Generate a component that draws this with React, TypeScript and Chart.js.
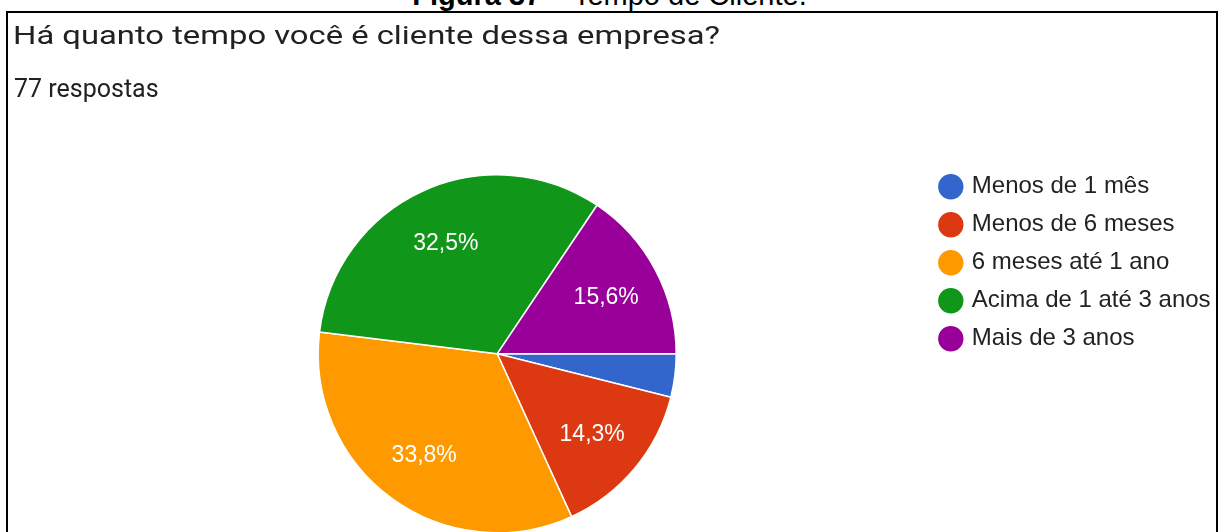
import React, { useEffect, useLayoutEffect, useRef } from "react";
import { Chart, registerables } from "chart.js";

Chart.register(...registerables);

const captionBold = "Figura 37";
const captionRest = " – Tempo de Cliente.";
const questionTitle = "Há quanto tempo você é cliente dessa empresa?";
const responseCount = "77 respostas";

const categories = [
  "Menos de 1 mês",
  "Menos de 6 meses",
  "6 meses até 1 ano",
  "Acima de 1 até 3 anos",
  "Mais de 3 anos",
];
const responses = [3, 11, 26, 25, 12];
const sliceColors = ["#3366CC", "#DC3912", "#FF9900", "#109618", "#990099"];
const minLabelPercent = 5;

const LEGEND_FONT = '"Liberation Sans", Arial, sans-serif';
const LEGEND_SIZE = 24;
const LEGEND_BOX_W = 18;
const LEGEND_PAD = 14;
const CANVAS_W = 1260;
const CANVAS_H = 560;
const LEGEND_LEFT = 927.8;

const sliceLabelPlugin = {
  id: "sliceLabels",
  afterDatasetsDraw(chart: any) {
    const ctx = chart.ctx;
    const meta = chart.getDatasetMeta(0);
    const values: number[] = chart.data.datasets[0].data;
    const total = values.reduce((a, b) => a + b, 0);
    ctx.save();
    ctx.fillStyle = "#ffffff";
    ctx.font = '23px "Liberation Sans", Arial, sans-serif';
    ctx.textAlign = "center";
    ctx.textBaseline = "middle";
    meta.data.forEach((arc: any, i: number) => {
      const pct = (values[i] / total) * 100;
      if (pct < minLabelPercent) return;
      const p = arc.getProps(["x", "y", "startAngle", "endAngle", "outerRadius"], true);
      const mid = (p.startAngle + p.endAngle) / 2;
      const r = p.outerRadius * 0.69;
      const text = pct.toFixed(1).replace(".", ",") + "%";
      ctx.fillText(text, p.x + Math.cos(mid) * r, p.y + Math.sin(mid) * r + 2);
    });
    ctx.restore();
  },
};

export default function App() {
  const canvasRef = useRef<HTMLCanvasElement | null>(null);
  const titleRef = useRef<HTMLSpanElement | null>(null);

  useLayoutEffect(() => {
    const el = titleRef.current;
    if (!el) return;
    el.style.transform = "none";
    const w = el.getBoundingClientRect().width;
    if (w > 0) el.style.transform = `scaleX(${707 / w})`;
  }, []);

  useEffect(() => {
    if (!canvasRef.current) return;
    const mctx = document.createElement("canvas").getContext("2d")!;
    mctx.font = `${LEGEND_SIZE}px ${LEGEND_FONT}`;
    const maxText = Math.max(...categories.map((c) => mctx.measureText(c).width));
    const legendWidth = LEGEND_PAD + LEGEND_BOX_W + LEGEND_SIZE / 2 + maxText + 10;
    const padRight = CANVAS_W - LEGEND_LEFT - legendWidth;

    const chart = new Chart(canvasRef.current, {
      type: "pie",
      data: {
        labels: categories,
        datasets: [
          {
            data: responses,
            backgroundColor: sliceColors,
            borderColor: "#ffffff",
            borderWidth: 1.5,
            radius: 179,
          },
        ],
      },
      options: {
        responsive: false,
        animation: false,
        rotation: 90,
        layout: { padding: { left: 66.6, right: padRight, top: 160.7, bottom: 13.1 } },
        plugins: {
          tooltip: { enabled: false },
          legend: {
            position: "right",
            align: "start",
            labels: {
              usePointStyle: true,
              pointStyle: "circle",
              boxWidth: LEGEND_BOX_W,
              boxHeight: 19,
              padding: LEGEND_PAD,
              color: "#222222",
              font: { family: LEGEND_FONT, size: LEGEND_SIZE },
            },
          },
        },
      } as any,
      plugins: [sliceLabelPlugin],
    });
    return () => chart.destroy();
  }, []);

  return (
    <div
      style={{
        position: "fixed",
        left: 0,
        top: 0,
        width: 1219,
        height: 532,
        overflow: "hidden",
        background: "#ffffff",
      }}
    >
      <div
        style={{
          position: "absolute",
          left: 0,
          top: -19.5,
          width: 1219,
          textAlign: "center",
          fontFamily: '"Liberation Sans", Arial, sans-serif',
          fontSize: 29,
          lineHeight: "29px",
          color: "#000",
          whiteSpace: "nowrap",
        }}
      >
        <b>{captionBold}</b>
        {captionRest}
      </div>
      <canvas
        ref={canvasRef}
        width={CANVAS_W}
        height={CANVAS_H}
        style={{ position: "absolute", left: 0, top: 0, display: "block" }}
      />
      <div
        style={{
          position: "absolute",
          left: 6,
          top: 11,
          width: 1212,
          height: 600,
          border: "2px solid #000",
          boxSizing: "border-box",
          pointerEvents: "none",
        }}
      />
      <div
        style={{
          position: "absolute",
          left: 13,
          top: 21.7,
          fontFamily: "Roboto, sans-serif",
          fontSize: 26.5,
          lineHeight: "26.5px",
          color: "#202124",
          whiteSpace: "nowrap",
        }}
      >
        <span ref={titleRef} style={{ display: "inline-block", transformOrigin: "0 0" }}>
          {questionTitle}
        </span>
      </div>
      <div
        style={{
          position: "absolute",
          left: 14,
          top: 76,
          fontFamily: "Roboto, sans-serif",
          fontSize: 25,
          lineHeight: "25px",
          color: "#202124",
          whiteSpace: "nowrap",
        }}
      >
        {responseCount}
      </div>
    </div>
  );
}
